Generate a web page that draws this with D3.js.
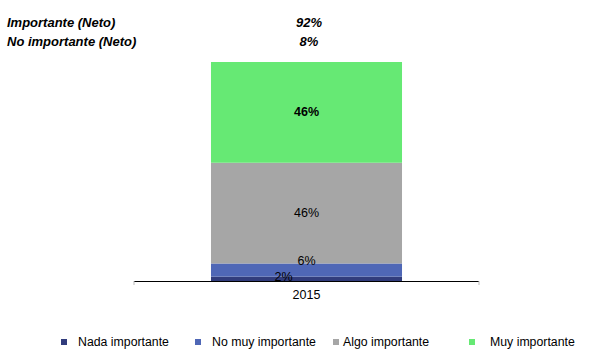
<!DOCTYPE html>
<html><head><meta charset="utf-8">
<script src="https://cdn.jsdelivr.net/npm/d3@7"></script>
<style>body{margin:0;background:#fff;} svg{display:block;font-family:"Liberation Sans",Arial,sans-serif;}</style>
</head><body>
<svg id="c" width="608" height="358"></svg>
<script>
const categories = ["2015"];
const seriesNames = ["Nada importante","No muy importante","Algo importante","Muy importante"];
const seriesColors = ["#313C7C","#4F67B6","#A6A6A6","#66E974"];
const values2015 = [2, 6, 46, 46];
const netLabels = ["Importante (Neto)","No importante (Neto)"];
const netValues = ["92%","8%"];

const svg = d3.select("#c");
const x = d3.scaleBand().domain(categories).range([134,479]).paddingInner(0).paddingOuter(0.403);
const y = d3.scaleLinear().domain([0,100]).range([281,62]);

let cum = 0;
const segs = values2015.map((v,i)=>{const s={i,v,y0:cum,y1:cum+v};cum+=v;return s;});

svg.selectAll("rect.bar").data(segs).enter().append("rect")
  .attr("x", x("2015")).attr("width", x.bandwidth())
  .attr("y", d=>y(d.y1)).attr("height", d=>y(d.y0)-y(d.y1))
  .attr("fill", d=>seriesColors[d.i]);

const ax = svg.append("g").attr("transform","translate(0,281)")
  .call(d3.axisBottom(x).tickSize(0).tickPadding(9));
ax.select(".domain").attr("stroke","#000").attr("stroke-width",1.2).attr("d","M134,0.5H479");
ax.selectAll("text").attr("font-size",12.5).attr("fill","#000").attr("font-family","Liberation Sans, Arial, sans-serif");
[134,479].forEach(px=>svg.append("line").attr("x1",px).attr("x2",px).attr("y1",281).attr("y2",285).attr("stroke","#bbb"));

const cx = x("2015") + x.bandwidth()/2;
const lbl = [
  {i:0, dx:-23, dy:-2},
  {i:1, dx:0, dy:-9},
  {i:2, dx:0, dy:0},
  {i:3, dx:0, dy:0, bold:true}
];
lbl.forEach(l=>{
  const s = segs[l.i];
  svg.append("text").attr("x", cx+l.dx).attr("y", (y(s.y0)+y(s.y1))/2 + l.dy)
    .attr("text-anchor","middle").attr("dominant-baseline","central")
    .attr("font-size",12.5).attr("font-weight", l.bold?"bold":"normal").attr("fill","#000")
    .text(s.v+"%");
});

netLabels.forEach((t,i)=>{
  svg.append("text").attr("x",7).attr("y",27+i*19).attr("font-size",13)
    .attr("font-weight","bold").attr("font-style","italic").text(t);
  svg.append("text").attr("x",309).attr("y",27+i*19).attr("font-size",13).attr("text-anchor","middle")
    .attr("font-weight","bold").attr("font-style","italic").text(netValues[i]);
});

const legX = [61,195,333,469];
const legTX = [78,212,343,490];
seriesNames.forEach((n,i)=>{
  svg.append("rect").attr("x",legX[i]).attr("y",339).attr("width",6).attr("height",6).attr("fill",seriesColors[i]);
  svg.append("text").attr("x",legTX[i]).attr("y",346).attr("font-size",12.3).attr("fill","#000").text(n);
});
</script>
</body></html>
